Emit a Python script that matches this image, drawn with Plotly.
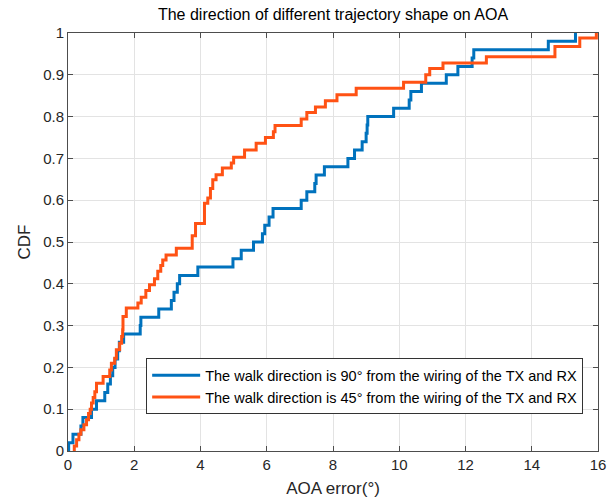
import plotly.graph_objects as go

# Sorted AOA errors (deg) and the empirical CDF level reached at each one
walk90_err = [0.02, 0.15, 0.39, 0.45, 0.71, 0.86, 1.11, 1.20, 1.28, 1.35,
              1.42, 1.50, 1.55, 1.68, 2.18, 2.20, 2.74, 3.12, 3.20, 3.30,
              3.37, 3.92, 4.98, 5.23, 5.60, 5.87, 5.94, 6.07, 6.19, 7.04,
              7.21, 7.45, 7.49, 7.74, 8.45, 8.65, 8.88, 9.00, 9.03, 9.05,
              9.83, 10.30, 10.35, 10.67, 11.42, 11.77, 12.20, 12.25, 14.50, 15.32]
walk90_cdf = [(i + 1) / 50 for i in range(50)]

walk45_err = [0.19, 0.26, 0.33, 0.39, 0.48, 0.56, 0.62, 0.67, 0.71, 0.76,
              0.81, 0.86, 1.06, 1.26, 1.31, 1.41, 1.46, 1.56, 1.62, 1.65,
              1.66, 1.76, 2.11, 2.21, 2.35, 2.46, 2.61, 2.71, 2.80, 2.86,
              2.96, 3.27, 3.75, 3.85, 4.12, 4.22, 4.30, 4.37, 4.47, 4.66,
              4.93, 5.00, 5.33, 5.68, 5.96, 6.20, 6.25, 7.04, 7.21, 7.47,
              7.77, 8.12, 8.70, 10.13, 10.80, 10.92, 11.32, 12.63, 14.70, 15.45,
              15.95]
walk45_cdf = [0.012, 0.027, 0.040, 0.051, 0.063, 0.075, 0.090, 0.100, 0.115, 0.128,
              0.142, 0.162, 0.178, 0.194, 0.210, 0.222, 0.242, 0.258, 0.274, 0.290,
              0.322, 0.342, 0.354, 0.368, 0.384, 0.398, 0.412, 0.430, 0.444, 0.457,
              0.469, 0.485, 0.515, 0.544, 0.593, 0.605, 0.628, 0.649, 0.661, 0.677,
              0.689, 0.703, 0.720, 0.736, 0.750, 0.764, 0.779, 0.794, 0.810, 0.823,
              0.838, 0.852, 0.868, 0.882, 0.900, 0.915, 0.928, 0.943, 0.968, 0.988,
              1.000]

x_ticks = list(range(0, 17, 2))
y_ticks = [round(0.1 * i, 1) for i in range(11)]
y_tick_text = ["0", "0.1", "0.2", "0.3", "0.4", "0.5", "0.6", "0.7", "0.8", "0.9", "1"]

series = [
    ("The walk direction is 90° from the wiring of the TX and RX", walk90_err, walk90_cdf, "#0072BD"),
    ("The walk direction is 45° from the wiring of the TX and RX", walk45_err, walk45_cdf, "#FF5214"),
]

fig = go.Figure()
for name, err, cdf, color in series:
    xs = [err[0]] + list(err)
    ys = [0.0] + list(cdf)
    fig.add_trace(go.Scatter(x=xs, y=ys, mode="lines", name=name,
                             line=dict(color=color, width=3, shape="hv")))

font_family = "Liberation Sans, Arial, sans-serif"
axis_common = dict(
    showgrid=True, gridcolor="#e3e3e3", gridwidth=1,
    showline=True, linecolor="#4d4d4d", linewidth=1, mirror="ticks",
    ticks="inside", ticklen=5, tickcolor="#4d4d4d", automargin=False,
    zeroline=False, tickfont=dict(family=font_family, size=15, color="#262626"),
)

fig.update_layout(
    width=607, height=501,
    margin=dict(l=68, r=9, t=33, b=50),
    paper_bgcolor="white", plot_bgcolor="white",
    font=dict(family=font_family, color="#262626"),
    title=dict(text="The direction of different trajectory shape on AOA",
               x=0.5, xanchor="center", xref="paper", y=0.972, yanchor="middle",
               font=dict(family=font_family, size=16, color="#000000")),
    xaxis=dict(range=[0, 16], tickvals=x_ticks, title=dict(text="AOA error(°)", standoff=10,
               font=dict(family=font_family, size=17, color="#262626")), **axis_common),
    yaxis=dict(range=[0, 1], tickvals=y_ticks, ticktext=y_tick_text,
               title=dict(text="CDF", standoff=8,
                          font=dict(family=font_family, size=17, color="#262626")), **axis_common),
    legend=dict(x=0.972, xanchor="right", y=0.088, yanchor="bottom",
                bgcolor="white", bordercolor="#333333", borderwidth=1,
                itemwidth=48,
                font=dict(family=font_family, size=14.5, color="#000000"),
                tracegroupgap=0),
    showlegend=True,
)

fig.write_html("out.html")
